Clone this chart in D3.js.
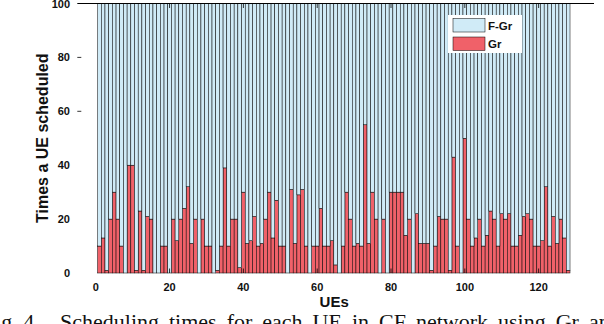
<!DOCTYPE html>
<html>
<head>
<meta charset="utf-8">
<script src="https://cdn.jsdelivr.net/npm/d3@7"></script>
<style>
body { margin: 0; background: #fff; overflow: hidden; }
svg { display: block; font-family: "Liberation Sans", Arial, sans-serif; }
</style>
</head>
<body>
<svg id="grafico" width="604" height="324"></svg>
<script>
"use strict"
var ues = d3.range(1, 129);
var gr = [10,13,1,20,30,20,10,0,40,40, 1,23,1,21,20,0,0,10,10,0,
          20,12,20,24,32,11,20,0,20,10, 10,0,1,10,39,10,20,20,2,30,
          11,12,21,10,11,20,30,13,27,10, 10,0,31,11,29,31,10,0,10,10,
          24,10,10,12,3,0,10,30,20,10, 11,10,55,11,30,20,0,20,0,30,
          30,30,30,14,20,0,22,11,11,11, 1,10,21,20,20,1,43,10,0,50,
          20,10,13,20,10,14,23,20,10,22, 20,22,10,10,14,21,22,20,10,10,
          12,32,10,21,11,20,13,1];
var fgr = [90,87,99,80,70,80,90,100,60,60, 99,77,99,79,80,100,100,90,90,100,
           80,88,80,76,68,89,80,100,80,90, 90,100,99,90,61,90,80,80,98,70,
           89,88,79,90,89,80,70,87,73,90, 90,100,69,89,71,69,90,100,90,90,
           76,90,90,88,97,100,90,70,80,90, 89,90,45,89,70,80,100,80,100,70,
           70,70,70,86,80,100,78,89,89,89, 99,90,79,80,80,99,57,90,100,50,
           80,90,87,80,90,86,77,80,90,78, 80,78,90,90,86,79,78,80,90,90,
           88,68,90,79,89,80,87,99];
var series = ["Gr", "F-Gr"];
var legendLabels = ["F-Gr", "Gr"];
var xTicks = [0, 20, 40, 60, 80, 100, 120];
var yTicks = [0, 20, 40, 60, 80, 100];

var cores = {"Gr": "#f06169", "F-Gr": "#d0ebf7"};

var svg = d3.select("svg#grafico");

var x = d3.scaleLinear().domain([-5, 135]).range([77.3, 594]);
var y = d3.scaleLinear().domain([0, 100]).range([273, 3.5]);

var tabela = ues.map(function(u, i) { return {ue: u, "Gr": gr[i], "F-Gr": fgr[i]}; });
var pilha = d3.stack().keys(series)(tabela);

svg.append("g")
    .attr("class", "barras")
  .selectAll("g")
    .data(pilha)
  .enter().append("g")
    .attr("fill", function(d) { return cores[d.key]; })
  .selectAll("rect")
    .data(function(d) { return d; })
  .enter().append("rect")
    .attr("x", function(d) { return x(d.data.ue - 0.5); })
    .attr("width", function(d) { return x(d.data.ue + 0.5) - x(d.data.ue - 0.5); })
    .attr("y", function(d) { return y(d[1]); })
    .attr("height", function(d) { return y(d[0]) - y(d[1]); })
    .attr("stroke", "#000")
    .attr("stroke-width", 0.5);

// moldura: so a linha de cima aparece
svg.append("line")
    .attr("x1", x(-5)).attr("x2", x(135))
    .attr("y1", y(100)).attr("y2", y(100))
    .attr("stroke", "#000").attr("stroke-width", 1);

var tickX = svg.append("g").attr("class", "ticksx");
tickX.selectAll("line.cima")
    .data(xTicks.filter(function(d) { return d > 0; }))
  .enter().append("line")
    .attr("class", "cima")
    .attr("x1", function(d) { return x(d); }).attr("x2", function(d) { return x(d); })
    .attr("y1", y(100)).attr("y2", y(100) + 4.5)
    .attr("stroke", "#000").attr("stroke-width", 0.8);
tickX.selectAll("line.baixo")
    .data(xTicks.filter(function(d) { return d > 0; }))
  .enter().append("line")
    .attr("class", "baixo")
    .attr("x1", function(d) { return x(d); }).attr("x2", function(d) { return x(d); })
    .attr("y1", y(0)).attr("y2", y(0) - 4.5)
    .attr("stroke", "#000").attr("stroke-width", 0.8);
tickX.selectAll("text")
    .data(xTicks)
  .enter().append("text")
    .attr("x", function(d) { return x(d); })
    .attr("y", 291)
    .attr("text-anchor", "middle")
    .attr("font-size", 11)
    .attr("font-weight", "bold")
    .attr("fill", "#111")
    .text(function(d) { return d; });

var tickY = svg.append("g").attr("class", "ticksy");
tickY.selectAll("line")
    .data(yTicks.filter(function(d) { return d >= 60 && d < 100; }))
  .enter().append("line")
    .attr("x1", x(-5)).attr("x2", x(-5) + 4)
    .attr("y1", function(d) { return y(d); }).attr("y2", function(d) { return y(d); })
    .attr("stroke", "#000").attr("stroke-width", 0.8);
tickY.selectAll("text")
    .data(yTicks)
  .enter().append("text")
    .attr("x", 70)
    .attr("y", function(d) { return y(d) + 4; })
    .attr("text-anchor", "end")
    .attr("font-size", 11)
    .attr("font-weight", "bold")
    .attr("fill", "#111")
    .text(function(d) { return d; });

svg.append("text")
    .attr("transform", "translate(48," + y(50) + ") rotate(-90)")
    .attr("text-anchor", "middle")
    .attr("font-size", 16)
    .attr("font-weight", "bold")
    .attr("fill", "#111")
    .text("Times a UE scheduled");

svg.append("text")
    .attr("x", x(60) + 17)
    .attr("y", 307)
    .attr("text-anchor", "middle")
    .attr("font-size", 15)
    .attr("font-weight", "bold")
    .attr("fill", "#111")
    .text("UEs");

// legenda
var leg = svg.append("g").attr("class", "legenda");
leg.append("rect")
    .attr("x", 448).attr("y", 15).attr("width", 74).attr("height", 38)
    .attr("fill", "#fff");
var item = leg.selectAll("g")
    .data(legendLabels)
  .enter().append("g")
    .attr("transform", function(d, i) { return "translate(453," + (18.5 + i * 18.5) + ")"; });
item.append("rect")
    .attr("width", 32).attr("height", 13.5)
    .attr("fill", function(d) { return cores[d]; })
    .attr("stroke", "#000").attr("stroke-width", 0.5);
item.append("text")
    .attr("x", 35).attr("y", 11)
    .attr("font-size", 11.5)
    .attr("font-weight", "bold")
    .attr("fill", "#111")
    .text(function(d) { return d; });

// legenda da figura (cortada na imagem)
svg.append("text")
    .attr("x", -17).attr("y", 329)
    .attr("font-family", "'Liberation Serif', 'Times New Roman', serif")
    .attr("font-size", 22)
    .attr("fill", "#111")
    .text("Fig. 4.");
svg.append("text")
    .attr("x", 60).attr("y", 329)
    .attr("font-family", "'Liberation Serif', 'Times New Roman', serif")
    .attr("font-size", 22)
    .attr("word-spacing", 4.5)
    .attr("fill", "#111")
    .text("Scheduling times for each UE in CF network using Gr and F-Gr.");
</script>
</body>
</html>
